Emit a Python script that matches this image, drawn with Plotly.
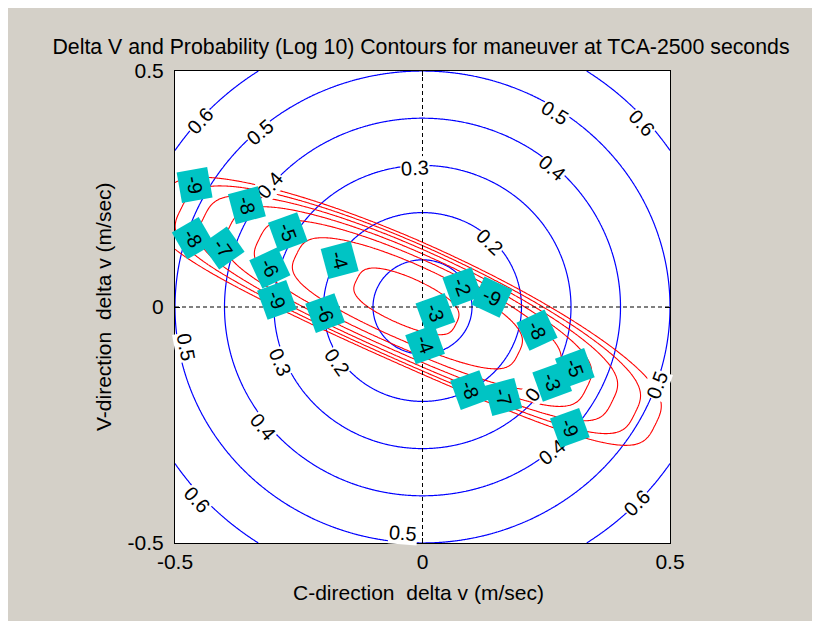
import numpy as np
import plotly.graph_objects as go

# ---------------- data ----------------
tick_vals = [-0.5, 0, 0.5]
tick_text = ["-0.5", "0", "0.5"]

# delta-V magnitude contour levels (m/sec)
dv_levels = [0.1, 0.2, 0.3, 0.4, 0.5, 0.6]

# log10 probability contour levels
prob_levels = [-9, -8, -7, -6, -5, -4, -3]

# probability field model
prob_center_c = -0.035     # C-direction centre
prob_center_v = 0.0135     # V-direction centre
prob_axis_slope = -0.47    # slope of the major axis
prob_axis_bend = 0.07      # slight bend of the major axis
prob_peak = -2.75          # peak log10 probability
prob_major_right = 0.2276  # major-axis scale (toward +C)
prob_major_left = 0.215    # major-axis scale (toward -C)
prob_minor = 0.074         # minor-axis scale
prob_minor_power = 3.4

# delta-V contour label positions
dv_label_x = [-0.45, -0.328, -0.308, -0.015, 0.268, 0.443, 0.262, 0.136,
              -0.478, -0.288, -0.173, -0.322, -0.455, -0.039,
              0.474, 0.233, 0.262, 0.433, 0.083]
dv_label_y = [0.395, 0.371, 0.258, 0.294, 0.411, 0.39, 0.294, 0.138,
              -0.085, -0.117, -0.117, -0.254, -0.409, -0.478,
              -0.165, -0.172, -0.307, -0.415, 0.042]
dv_label_text = ["0.6", "0.5", "0.4", "0.3", "0.5", "0.6", "0.4", "0.2",
                 "0.5", "0.3", "0.2", "0.4", "0.6", "0.5",
                 "0.5", "0.3", "0.4", "0.6", "0.1"]

# log10 probability label positions
p_label_x = [-0.46, -0.355, -0.272, -0.464, -0.403, -0.308, -0.167, -0.294,
             -0.197, 0.08, 0.14, 0.026, 0.006, 0.231, 0.096, 0.163,
             0.262, 0.308, 0.298]
p_label_y = [0.259, 0.216, 0.159, 0.146, 0.125, 0.083, 0.1, 0.015,
             -0.013, 0.042, 0.021, -0.013, -0.08, -0.049, -0.176, -0.191,
             -0.159, -0.129, -0.256]
p_label_text = ["-9", "-8", "-5", "-8", "-7", "-6", "-4", "-9",
                "-6", "-2", "-9", "-3", "-4", "-8", "-8", "-7",
                "-3", "-5", "-9"]
p_label_angle = [80, 75, 70, 60, 55, 65, 75, 70,
                 70, 70, 25, 70, 70, 65, 70, 75,
                 70, 70, 70]

# ---------------- geometry ----------------
# page body has an 8px margin, so the figure starts at (8, 8)
W, H = 820, 621
L, T = 167, 63
PW, PH = 495, 472
R, B = W - L - PW, H - T - PH

c = np.linspace(-0.5, 0.5, 401)
v = np.linspace(-0.5, 0.5, 401)
CC, VV = np.meshgrid(c, v)
dv_mag = np.sqrt(CC**2 + VV**2)

th = np.arctan(prob_axis_slope)
dc, dvv = CC - prob_center_c, VV - prob_center_v
uu = dc * np.cos(th) + dvv * np.sin(th)
ww = -dc * np.sin(th) + dvv * np.cos(th) + prob_axis_bend * uu**2
amaj = np.where(uu >= 0, prob_major_right, prob_major_left)
logp = prob_peak - (uu / amaj) ** 2 - (np.abs(ww) / prob_minor) ** prob_minor_power

FONT = "Liberation Sans, Arial, sans-serif"

fig = go.Figure()
fig.add_trace(go.Contour(
    x=c, y=v, z=dv_mag,
    contours=dict(start=dv_levels[0], end=dv_levels[-1], size=0.1, coloring="lines"),
    colorscale=[[0, "#0000ff"], [1, "#0000ff"]], showscale=False,
    line=dict(width=1.2), hoverinfo="skip"))
fig.add_trace(go.Contour(
    x=c, y=v, z=logp,
    contours=dict(start=prob_levels[0], end=prob_levels[-1], size=1, coloring="lines"),
    colorscale=[[0, "#ff0000"], [1, "#ff0000"]], showscale=False,
    line=dict(width=1.1), hoverinfo="skip"))

ann = []
for x, y, t in zip(dv_label_x, dv_label_y, dv_label_text):
    ang = float(np.degrees(np.arctan2(x * PH, y * PW)))
    if ang > 90:
        ang -= 180
    if ang < -90:
        ang += 180
    ann.append(dict(x=x, y=y, xref="x", yref="y", text=t, showarrow=False,
                    textangle=ang, bgcolor="white", borderpad=0,
                    font=dict(family=FONT, size=20, color="black")))
for x, y, t, a in zip(p_label_x, p_label_y, p_label_text, p_label_angle):
    ann.append(dict(x=x, y=y, xref="x", yref="y", text=t, showarrow=False,
                    textangle=a, bgcolor="#00c4c4", borderpad=3,
                    width=24, height=24,
                    font=dict(family=FONT, size=20, color="black")))

# axis titles (positions in page pixels converted to paper fractions)
ann.append(dict(x=(418 - 8 - L) / PW, y=(T + PH - (592 - 8)) / PH,
                xref="paper", yref="paper", xanchor="center", yanchor="middle",
                text="C-direction  delta v (m/sec)", showarrow=False,
                font=dict(family=FONT, size=21, color="black")))
ann.append(dict(x=(103 - 8 - L) / PW, y=0.5, xref="paper", yref="paper",
                xanchor="center", yanchor="middle",
                text="V-direction  delta v (m/sec)", showarrow=False, textangle=-90,
                font=dict(family=FONT, size=21, color="black")))

shapes = [
    dict(type="line", xref="x", yref="paper", x0=0, x1=0, y0=0, y1=1,
         line=dict(color="black", width=1, dash="4px,3px"), layer="above"),
    dict(type="line", xref="paper", yref="y", x0=0, x1=1, y0=0, y1=0,
         line=dict(color="black", width=1, dash="4px,3px"), layer="above"),
]

axis_common = dict(range=[-0.5, 0.5], tickvals=tick_vals, ticktext=tick_text,
                   showgrid=False, zeroline=False, showline=True, linecolor="black",
                   linewidth=1, mirror="ticks", ticks="inside", ticklen=5,
                   tickcolor="black",
                   tickfont=dict(family=FONT, size=21, color="black"))

fig.update_layout(
    width=W, height=H,
    margin=dict(l=L, r=R, t=T, b=B, pad=0),
    paper_bgcolor="#d4d0c8", plot_bgcolor="white",
    title=dict(text="Delta V and Probability (Log 10) Contours for maneuver at TCA-2500 seconds",
               x=(421 - 8) / W, xanchor="center", y=1 - (47 - 8) / H, yanchor="middle",
               font=dict(family=FONT, size=21.3, color="black")),
    xaxis=dict(**axis_common),
    yaxis=dict(**axis_common, ticklabelstandoff=6),
    annotations=ann, shapes=shapes, showlegend=False,
)
fig.write_html("out.html")
